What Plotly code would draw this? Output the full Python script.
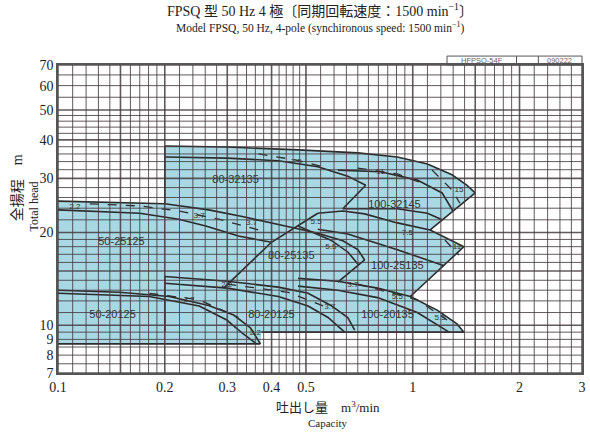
import numpy as np
import plotly.graph_objects as go

# ---------------- data (Q in m3/min, H in m) ----------------
# union of all selection areas (outline)
area_q = [0.10, 0.14, 0.20, 0.20, 0.30, 0.475, 0.70, 0.905, 1.10, 1.29, 1.42, 1.50,
          1.12, 1.394, 0.9845, 1.1716, 1.3325, 1.394, 0.3746, 0.372, 0.10]
area_h = [25.3, 25.1, 24.8, 38.2, 37.9, 37.1, 36.3, 35.2, 33.4, 30.8, 28.5, 26.9,
          20.4, 18.0, 12.4, 11.2, 10.1, 9.5, 9.5, 8.7, 8.7]

# solid boundary / H-Q curves
curves = {
    "top_32": ([0.20, 0.30, 0.475, 0.70, 0.905, 1.10, 1.29, 1.42, 1.50],
               [38.2, 37.9, 37.1, 36.3, 35.2, 33.4, 30.8, 28.5, 26.9]),
    "left_32": ([0.20, 0.20], [38.2, 24.8]),
    "80-32135_low": ([0.20, 0.30, 0.418, 0.54, 0.656, 0.737],
                     [35.2, 34.9, 34.2, 32.7, 30.5, 28.5]),
    "80-32135_max": ([0.737, 0.635], [28.5, 23.9]),
    "100-32145_mid": ([0.615, 0.811, 1.03, 1.21, 1.298],
                      [31.9, 31.5, 29.6, 26.9, 23.5]),
    "100-32145_max": ([1.50, 1.12], [26.9, 20.4]),
    "100-32145_low": ([0.635, 0.905, 1.10, 1.21], [23.9, 23.9, 23.1, 22.0]),
    "50-25125_top": ([0.10, 0.14, 0.20, 0.266, 0.3334, 0.437, 0.54, 0.635, 0.70, 0.732],
                     [25.3, 25.1, 24.8, 23.7, 22.5, 21.0, 19.9, 18.8, 17.6, 16.3]),
    "80-25135_max": ([0.732, 0.615], [16.3, 13.8]),
    "50-25125_low": ([0.10, 0.17, 0.219, 0.261, 0.3227, 0.3995],
                     [23.7, 23.1, 22.1, 21.0, 19.5, 18.6]),
    "diag_25": ([0.293, 0.3995, 0.54], [13.2, 18.6, 23.1]),
    "80-25135_low": ([0.475, 0.588, 0.656, 0.704], [21.0, 18.9, 17.3, 15.7]),
    "100-25135_top": ([0.54, 0.635, 0.732, 0.905, 1.12, 1.394],
                      [23.1, 23.5, 23.0, 21.5, 20.4, 18.0]),
    "100-25135_low": ([0.54, 0.656, 0.905, 1.225], [20.5, 19.8, 17.6, 15.6]),
    "100-25135_max": ([1.394, 0.9845], [18.0, 12.4]),
    "50-20125_top": ([0.10, 0.149, 0.2057, 0.266, 0.3128, 0.349, 0.372],
                     [13.0, 12.8, 12.4, 11.6, 10.8, 9.8, 8.7]),
    "50-20125_low": ([0.10, 0.181, 0.25, 0.299, 0.333, 0.3627],
                     [12.7, 12.4, 11.55, 10.4, 9.37, 8.7]),
    "bottom_left": ([0.10, 0.372], [8.7, 8.7]),
    "80-20125_top": ([0.20, 0.30, 0.418, 0.507, 0.588, 0.656, 0.686],
                     [14.4, 13.9, 13.3, 12.7, 11.6, 10.6, 9.65]),
    "80-20125_low": ([0.20, 0.30, 0.418, 0.507, 0.577, 0.643],
                     [13.7, 13.2, 12.4, 11.55, 10.6, 9.5]),
    "left_20": ([0.20, 0.20], [14.4, 9.5]),
    "bottom_right": ([0.3746, 1.394], [9.5, 9.5]),
    "100-20135_top": ([0.475, 0.615, 0.7957, 0.9845, 1.1716, 1.3325, 1.394],
                      [14.2, 13.9, 13.2, 12.4, 11.2, 10.1, 9.5]),
    "100-20135_low": ([0.475, 0.615, 0.7957, 1.03, 1.266],
                      [13.4, 13.0, 12.3, 11.0, 9.5]),
}

# dashed motor-output lines
dashed = {
    "d1": ([0.1229, 0.17, 0.219, 0.2838, 0.3674], [24.8, 24.4, 23.5, 22.1, 20.4]),
    "d2": ([0.3674, 0.4694, 0.577], [36.0, 34.4, 32.4]),
    "d3": ([1.134, 1.29, 1.358], [31.9, 27.5, 24.9]),
    "d4": ([1.233, 1.35], [18.9, 16.9]),
    "d5": ([0.70, 0.905, 1.10], [32.4, 31.0, 28.5]),
    "d6": ([0.70, 1.03, 1.2496], [13.6, 12.1, 10.4]),
    "d7": ([0.30, 0.4457, 0.577], [13.6, 12.8, 11.4]),
    "d8": ([0.181, 0.25, 0.3227], [12.7, 12.1, 10.6]),
}

model_names = ["80-32135", "100-32145", "50-25125", "80-25135", "100-25135",
               "50-20125", "80-20125", "100-20135"]
model_q = [0.3167, 0.888, 0.151, 0.4548, 0.905, 0.1425, 0.3995, 0.849]
model_h = [29.6, 24.6, 18.6, 16.7, 15.5, 10.8, 10.8, 10.8]

kw_text = ["2.2", "3.7", "3.7", "5.5", "7.5", "11", "15", "7.5", "11", "5.5",
           "2.2", "3.7", "2.2", "3.7", "5.5", "3.7", "5.5"]
kw_q = [0.1116, 0.25, 0.3513, 0.534, 0.4694, 0.811, 1.35, 0.9656, 1.3325, 0.588,
        0.299, 0.234, 0.360, 0.6776, 0.905, 0.584, 1.194]
kw_h = [24.2, 22.6, 21.5, 21.6, 33.9, 31.5, 27.5, 19.9, 18.0, 18.0,
        13.5, 12.1, 9.44, 13.5, 12.4, 11.5, 10.6]

x_tick_vals = [0.1, 0.2, 0.3, 0.4, 0.5, 1, 2, 3]
x_tick_text = ["0.1", "0.2", "0.3", "0.4", "0.5", "1", "2", "3"]
y_tick_vals = [7, 8, 9, 10, 20, 30, 40, 50, 60, 70]
y_tick_text = ["7", "8", "9", "10", "20", "30", "40", "50", "60", "70"]

# log-paper grid values
x_grid = sorted(set(
    [round(v, 3) for v in np.arange(0.10, 0.2, 0.01)] +
    [round(v, 3) for v in np.arange(0.20, 0.5, 0.02)] +
    [round(v, 3) for v in np.arange(0.50, 1.0, 0.05)] +
    [round(v, 3) for v in np.arange(1.0, 2.0, 0.1)] +
    [round(v, 3) for v in np.arange(2.0, 3.01, 0.2)]))
y_grid = sorted(set(
    [round(v, 2) for v in np.arange(7.0, 10.0, 0.5)] +
    [round(v, 2) for v in np.arange(10.0, 20.0, 1.0)] +
    [round(v, 2) for v in np.arange(20.0, 50.0, 2.0)] +
    [round(v, 2) for v in np.arange(50.0, 70.01, 5.0)]))
x_major = [0.1, 0.15, 0.2, 0.3, 0.4, 0.5, 1.0, 1.5, 2.0, 3.0]
y_major = [7, 10, 15, 20, 30, 40, 50, 70]

SERIF = "Liberation Serif, Noto Sans CJK JP, serif"
SANS = "Liberation Sans, Arial, sans-serif"
INK = "#2b2b2b"

fig = go.Figure()
fig.add_trace(go.Scatter(x=area_q, y=area_h, mode="lines", fill="toself",
                         fillcolor="#a8d8e4", line=dict(width=0),
                         hoverinfo="skip", showlegend=False))
for name, (q, h) in curves.items():
    fig.add_trace(go.Scatter(x=q, y=h, mode="lines",
                             line=dict(color=INK, width=1.6),
                             hoverinfo="skip", showlegend=False))
for name, (q, h) in dashed.items():
    fig.add_trace(go.Scatter(x=q, y=h, mode="lines",
                             line=dict(color=INK, width=1.3, dash="dash"),
                             hoverinfo="skip", showlegend=False))
fig.add_trace(go.Scatter(x=model_q, y=model_h, mode="text", text=model_names,
                         textfont=dict(family=SANS, size=11, color="#333"),
                         hoverinfo="skip", showlegend=False))
fig.add_trace(go.Scatter(x=kw_q, y=kw_h, mode="text", text=kw_text,
                         textfont=dict(family=SANS, size=8, color="#333"),
                         hoverinfo="skip", showlegend=False))

shapes = []
for v in x_grid:
    major = any(abs(v - m) < 1e-6 for m in x_major)
    shapes.append(dict(type="line", xref="x", yref="paper", x0=v, x1=v, y0=0, y1=1,
                       layer="above",
                       line=dict(color="rgba(70,60,65,0.85)", width=1.6 if major else 1)))
for v in y_grid:
    major = any(abs(v - m) < 1e-6 for m in y_major)
    shapes.append(dict(type="line", xref="paper", yref="y", x0=0, x1=1, y0=v, y1=v,
                       layer="above",
                       line=dict(color="rgba(70,60,65,0.85)", width=1.6 if major else 1)))
# drawing-number box above the plot
shapes.append(dict(type="rect", xref="paper", yref="paper", x0=0.7424, x1=1.0,
                   y0=1.0, y1=1.029, line=dict(color="#555", width=1)))
for xv in [0.875, 0.9167]:
    shapes.append(dict(type="line", xref="paper", yref="paper", x0=xv, x1=xv,
                       y0=1.0, y1=1.029, line=dict(color="#555", width=1)))

def ann(text, x, y, size, family=SERIF, color="#222", angle=0):
    return dict(text=text, xref="paper", yref="paper", x=x, y=y, showarrow=False,
                xanchor="center", yanchor="middle", textangle=angle,
                font=dict(family=family, size=size, color=color))

annotations = [
    ann("FPSQ 型 50 Hz 4 極〔同期回転速度：1500 min<sup>−1</sup>〕", 0.50, 1.178, 14),
    ann("Model FPSQ, 50 Hz, 4-pole (synchironous speed: 1500 min<sup>−1</sup>)",
        0.50, 1.122, 11.5),
    ann("HFPSQ-54F", 0.8087, 1.0145, 7.5, SANS, "#666"),
    ann("090222", 0.958, 1.0145, 7.5, SANS, "#666"),
    ann("全揚程　m", -0.078, 0.60, 14, angle=-90),
    ann("Total head", -0.046, 0.54, 12, angle=-90),
    ann("吐出し量　m<sup>3</sup>/min", 0.515, -0.11, 13),
    ann("Capacity", 0.515, -0.162, 11),
]

fig.update_layout(
    width=590, height=434,
    margin=dict(l=58, r=4, t=65, b=61),
    paper_bgcolor="white", plot_bgcolor="white",
    shapes=shapes, annotations=annotations,
    xaxis=dict(type="log", range=[np.log10(0.1), np.log10(3)],
               tickvals=x_tick_vals, ticktext=x_tick_text, showgrid=False,
               zeroline=False, showline=True, mirror=True, linecolor="#555",
               linewidth=1.5, ticks="", layer="above traces",
               tickfont=dict(family=SERIF, size=14, color="#222")),
    yaxis=dict(type="log", range=[np.log10(7), np.log10(70)],
               tickvals=y_tick_vals, ticktext=y_tick_text, showgrid=False,
               zeroline=False, showline=True, mirror=True, linecolor="#555",
               linewidth=1.5, ticks="", layer="above traces",
               tickfont=dict(family=SERIF, size=14, color="#222")),
)

fig.write_html("out.html", config={"displayModeBar": False},
               post_script="document.body.style.margin='0';document.body.style.padding='0';")
